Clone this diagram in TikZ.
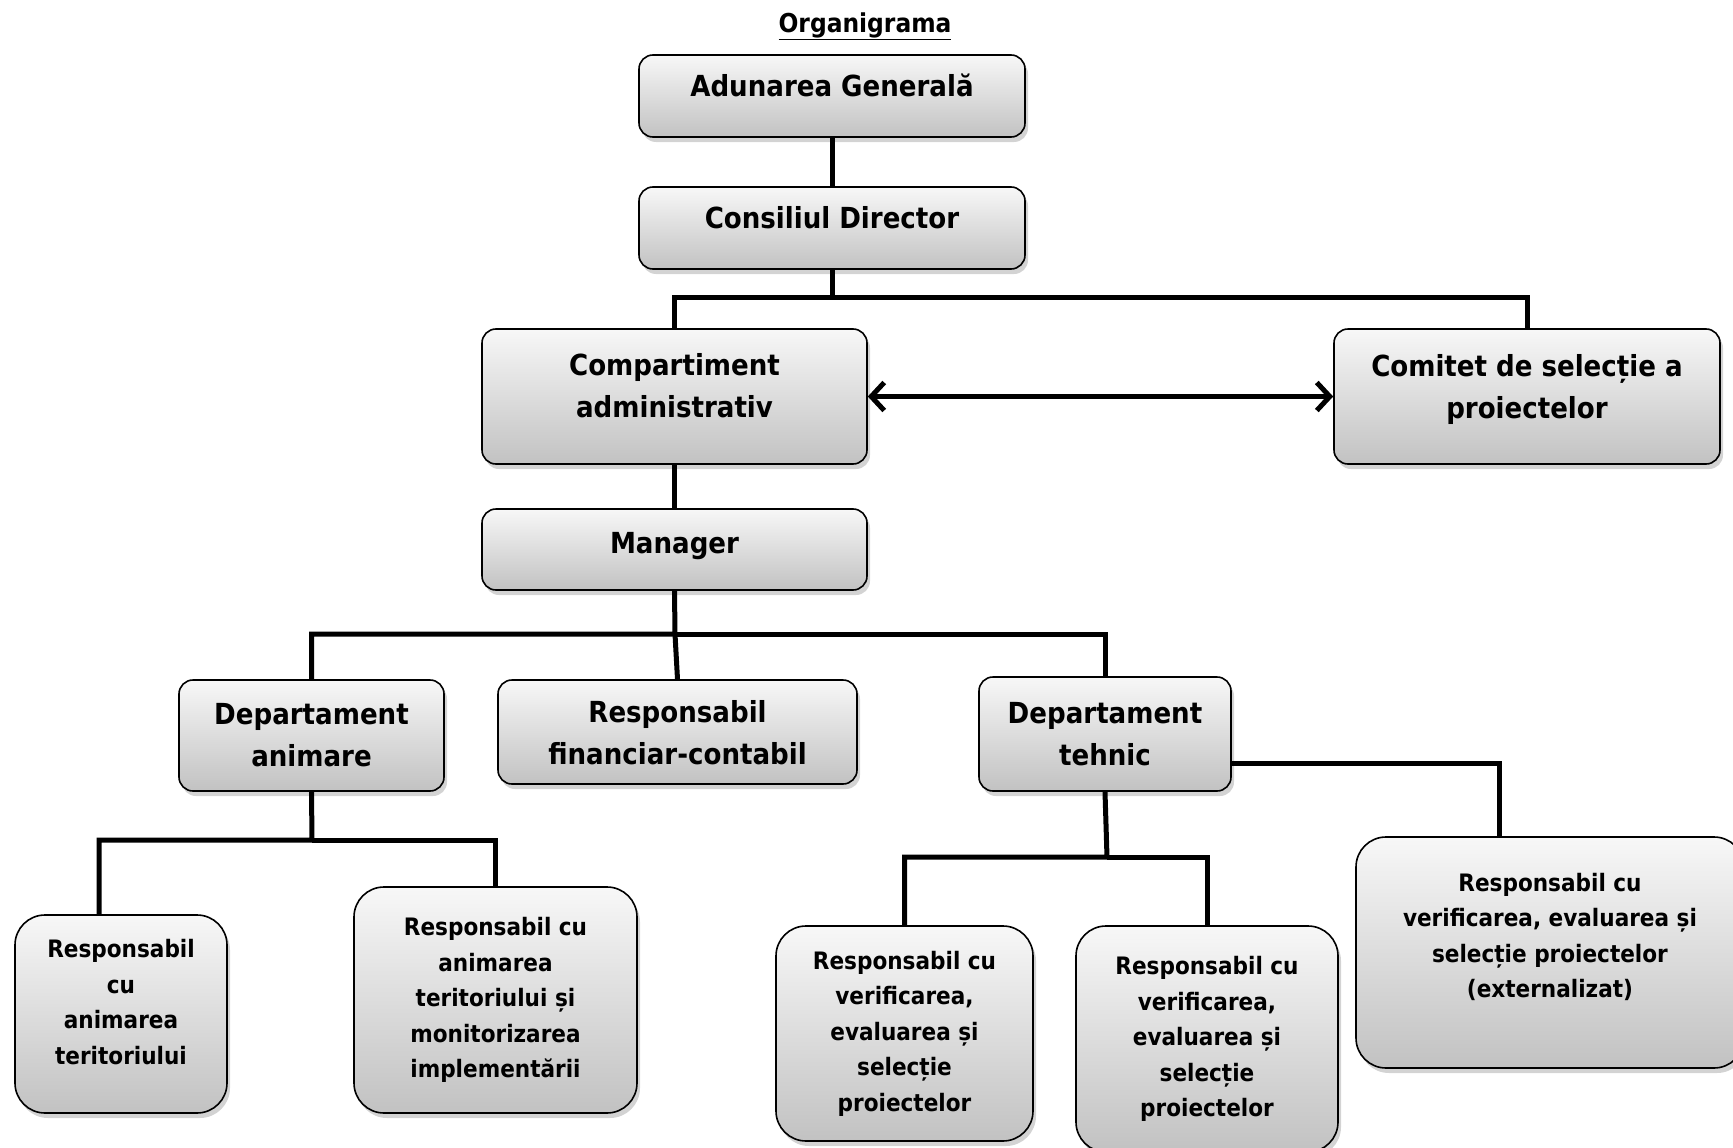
\documentclass[tikz,border=0pt]{standalone}
\usepackage{fontspec}
\setmainfont{DejaVu Sans Condensed}
\usepackage{tikz}
\usetikzlibrary{shadows,arrows.meta}

\begin{document}
\begin{tikzpicture}[x=1pt,y=-1pt,>={Straight Barb[length=13pt,width=28pt]},
    box node/.style={draw,line width=1.6pt,rounded corners=14pt,top color=gray!6,bottom color=gray!48,
      drop shadow={opacity=0.35,shadow xshift=3pt,shadow yshift=-5pt},
      align=center,inner sep=0pt,font=\bfseries\fontsize{29}{42}\selectfont},
    small node/.style={box node,rounded corners=30pt,font=\bfseries\fontsize{24}{35.5}\selectfont},
    raised/.style={text depth=#1},
    link/.style={line width=5pt}]
  \useasboundingbox (0,0) rectangle (1733,1148);
  \clip (0,0) rectangle (1733,1148);

  \node[font=\bfseries\fontsize{26}{30}\selectfont] (title) at (865,26) {\underline{Organigrama}};

  % top of the chart
  \node[box node,raised=22pt,minimum width=386,minimum height=82] (adunare) at (832,96) {Adunarea Generală};
  \node[box node,raised=22pt,minimum width=386,minimum height=82] (consiliu) at (832,228) {Consiliul Director};
  \node[box node,raised=23pt,minimum width=385,minimum height=135] (compart) at (674.5,396.5) {Compartiment\\administrativ};
  \node[box node,raised=21pt,minimum width=386,minimum height=135] (comitet) at (1527,396.5) {Comitet de selecție a\\proiectelor};
  \node[box node,raised=14pt,minimum width=385,minimum height=81] (manager) at (674.5,549.5) {Manager};

  % departments
  \node[box node,minimum width=265,minimum height=111] (animare) at (311.5,735.5) {Departament\\animare};
  \node[box node,raised=0pt,minimum width=359,minimum height=104] (financiar) at (677.5,732) {Responsabil\\financiar-contabil};
  \node[box node,minimum width=252,minimum height=114] (tehnic) at (1105,734) {Departament\\tehnic};

  % bottom row
  \node[small node,raised=24pt,minimum width=212,minimum height=198] (anim1) at (121,1014) {Responsabil\\cu\\animarea\\teritoriului};
  \node[small node,minimum width=283,minimum height=226] (anim2) at (495.5,1000) {Responsabil cu\\animarea\\teritoriului și\\monitorizarea\\implementării};
  \node[small node,minimum width=257,minimum height=215] (verif1) at (904.5,1033.5) {Responsabil cu\\verificarea,\\evaluarea și\\selecție\\proiectelor};
  \node[small node,minimum width=262,minimum height=226] (verif2) at (1207,1039) {Responsabil cu\\verificarea,\\evaluarea și\\selecție\\proiectelor};
  \node[small node,raised=34pt,minimum width=388,minimum height=231] (extern) at (1550,952.5) {Responsabil cu\\verificarea, evaluarea și\\selecție proiectelor\\(externalizat)};

  \coordinate (bus1) at (832,297);
  \coordinate (bus2) at (675,634);
  \coordinate (bus3) at (312,840);
  \coordinate (bus4) at (1107,857);

  \draw[link] (adunare) -- (consiliu);
  \draw[link] (consiliu.south) -- (bus1) -| (compart.north);
  \draw[link] (bus1) -| (comitet.north);
  \draw[link,<->] (compart) -- (comitet);
  \draw[link] (compart) -- (manager);
  \draw[link] (manager.south) -- (bus2) -| (animare.north);
  \draw[link] (bus2) -| (tehnic.north);
  \draw[link] (bus2) -- (financiar.north);
  \draw[link] (animare.south) -- (bus3) -| ([xshift=-22pt]anim1.north);
  \draw[link] (bus3) -| (anim2.north);
  \draw[link] (tehnic.south) -- (bus4) -| (verif1.north);
  \draw[link] (bus4) -| (verif2.north);
  \draw[link] ([yshift=-29pt]tehnic.east) -| ([xshift=-51pt]extern.north);
\end{tikzpicture}
\end{document}
